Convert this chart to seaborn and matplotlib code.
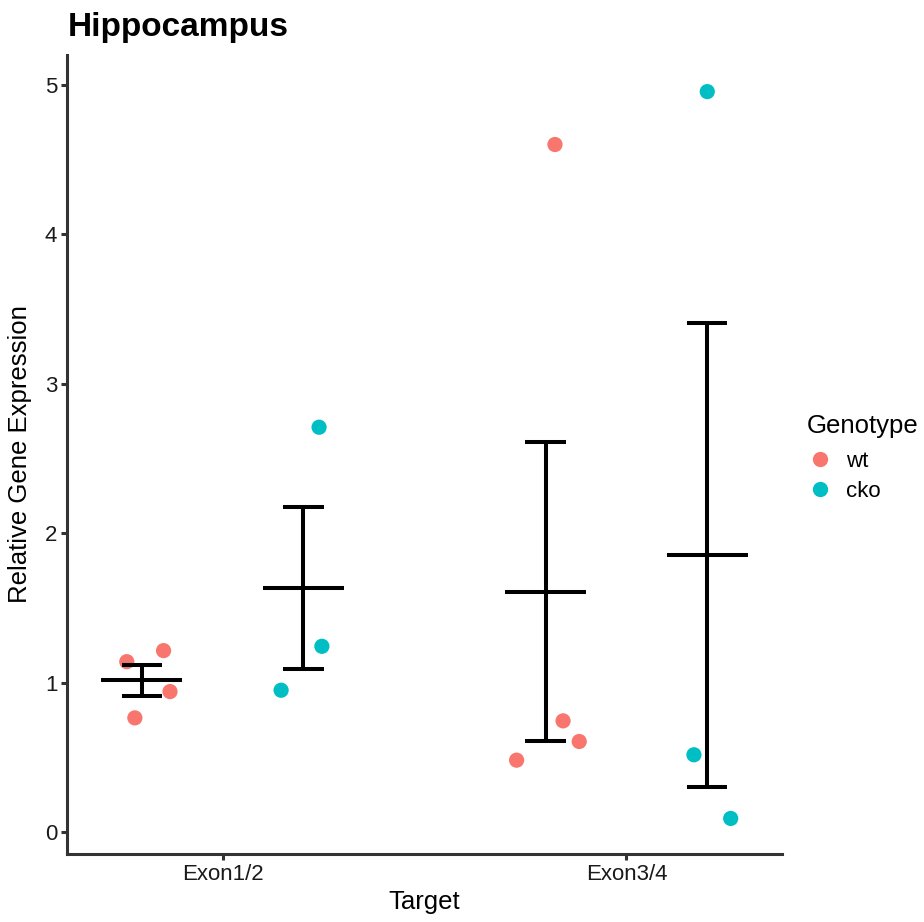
import numpy as np
import pandas as pd
import matplotlib
matplotlib.use("Agg")
import matplotlib.pyplot as plt
import seaborn as sns
from matplotlib.lines import Line2D

# ---- data ----
targets = ["Exon1/2", "Exon3/4"]
genotypes = ["wt", "cko"]
exon12_wt = [1.140, 1.214, 0.940, 0.764]
exon12_cko = [0.949, 1.243, 2.709]
exon34_wt = [4.601, 0.744, 0.606, 0.481]
exon34_cko = [4.955, 0.517, 0.091]
# horizontal jitter of each point (category units, relative to its dodged centre)
exon12_wt_jit = [-0.037, 0.054, 0.070, -0.017]
exon12_cko_jit = [-0.055, 0.046, 0.039]
exon34_wt_jit = [0.023, 0.043, 0.083, -0.072]
exon34_cko_jit = [0.000, -0.033, 0.058]
y_ticks = [0, 1, 2, 3, 4, 5]

palette = {"wt": "#F8766D", "cko": "#00BFC4"}

rows = []
for t, g, vals, jit in [("Exon1/2", "wt", exon12_wt, exon12_wt_jit),
                        ("Exon1/2", "cko", exon12_cko, exon12_cko_jit),
                        ("Exon3/4", "wt", exon34_wt, exon34_wt_jit),
                        ("Exon3/4", "cko", exon34_cko, exon34_cko_jit)]:
    for v, j in zip(vals, jit):
        rows.append({"Target": t, "Genotype": g, "Value": v, "Jitter": j})
df = pd.DataFrame(rows)
dodge = {"wt": -0.2, "cko": 0.2}
df["xpos"] = df["Target"].map({t: i for i, t in enumerate(targets)}) + df["Genotype"].map(dodge) + df["Jitter"]

sns.set_theme(style="ticks")
plt.rcParams["font.family"] = ["Liberation Sans", "DejaVu Sans"]
plt.rcParams["text.color"] = "black"

fig = plt.figure(figsize=(9.24, 9.22), dpi=100)
ax = fig.add_axes([67 / 924, 1 - 854 / 922, (782 - 67) / 924, (854 - 55) / 922])

sns.scatterplot(data=df, x="xpos", y="Value", hue="Genotype", palette=palette,
                hue_order=genotypes, s=120, linewidth=0, ax=ax, legend=False, zorder=2)

# mean +/- SE
summary = df.groupby(["Target", "Genotype"])["Value"].agg(["mean", "std", "count"]).reset_index()
summary["se"] = summary["std"] / np.sqrt(summary["count"])
lw = 2.9
for _, r in summary.iterrows():
    xc = targets.index(r["Target"]) + dodge[r["Genotype"]]
    lo, hi = r["mean"] - r["se"], r["mean"] + r["se"]
    ax.vlines(xc, lo, hi, color="black", lw=lw, zorder=3)
    ax.hlines([lo, hi], xc - 0.05, xc + 0.05, color="black", lw=lw, zorder=3)
    ax.hlines(r["mean"], xc - 0.1, xc + 0.1, color="black", lw=lw, zorder=3)

ax.set_xlim(-0.385, 1.385)
ax.set_ylim(-0.147, 5.2)
ax.set_xticks([0, 1])
ax.set_xticklabels(targets)
ax.set_yticks(y_ticks)
ax.set_yticklabels([str(v) for v in y_ticks])
sns.despine(ax=ax)
for sp in ["left", "bottom"]:
    ax.spines[sp].set_linewidth(2.2)
    ax.spines[sp].set_color("#333333")
ax.tick_params(axis="both", length=4, width=2.2, color="#333333",
               labelsize=16, labelcolor="#1a1a1a", pad=3)
ax.set_xlabel("Target", fontsize=18.5, color="black", labelpad=4)
ax.set_ylabel("Relative Gene Expression", fontsize=18.5, color="black", labelpad=9)
ax.grid(False)

fig.text(68 / 924, 1 - 36 / 922, "Hippocampus", fontsize=24, fontweight="bold",
         color="black", ha="left", va="baseline")

handles = [Line2D([0], [0], marker="o", linestyle="", markersize=11,
                  markerfacecolor=palette[g], markeredgewidth=0) for g in genotypes]
leg = fig.legend(handles, genotypes, title="Genotype", loc="upper left",
                 bbox_to_anchor=(798 / 924, 1 - 405 / 922), frameon=False,
                 fontsize=16, title_fontsize=18.5, handletextpad=0.55,
                 labelspacing=0.4, borderaxespad=0, handlelength=1.2)
leg._legend_box.align = "left"
leg._legend_box.sep = 9.5

fig.savefig("out.png", dpi=100)
